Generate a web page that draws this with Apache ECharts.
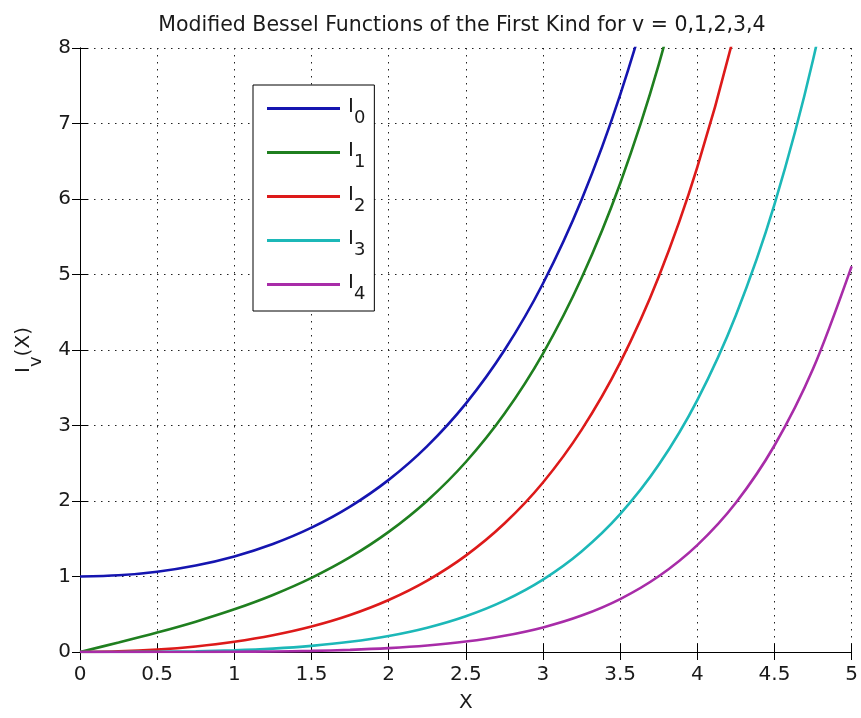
<!DOCTYPE html>
<html>
<head>
<meta charset="utf-8">
<script src="https://cdn.jsdelivr.net/npm/echarts@6/dist/echarts.min.js"></script>
<style>
  html, body { margin: 0; padding: 0; background: #fff; }
  #chart { width: 861px; height: 718px; }
</style>
</head>
<body>
<div id="chart"></div>
<script>
// Sample positions along X (step 0.25)
const xValues = [0, 0.25, 0.5, 0.75, 1, 1.25, 1.5, 1.75, 2, 2.25, 2.5, 2.75, 3, 3.25, 3.5, 3.75, 4, 4.25, 4.5, 4.75, 5];

// I_v(X) for v = 0..4
const i0Values = [1, 1.0157, 1.0635, 1.1456, 1.2661, 1.4305, 1.6467, 1.9253, 2.2796, 2.7271, 3.2898, 3.9959, 4.8808, 5.9893, 7.3782, 9.1189, 11.3019];
const i1Values = [0, 0.1260, 0.2579, 0.4020, 0.5652, 0.7553, 0.9817, 1.2555, 1.5906, 2.0040, 2.5167, 3.1554, 3.9534, 4.9525, 6.2058, 7.7800, 9.7595];
const i2Values = [0, 0.0079, 0.0319, 0.0737, 0.1357, 0.2220, 0.3378, 0.4904, 0.6889, 0.9458, 1.2764, 1.7011, 2.2452, 2.9417, 3.8320, 4.9696, 6.4222, 8.2762, 10.6416];
const i3Values = [0, 0.0003, 0.0026, 0.0091, 0.0222, 0.0448, 0.0808, 0.1347, 0.2127, 0.3226, 0.4743, 0.6811, 0.9598, 1.3320, 1.8263, 2.4791, 3.3373, 4.4616, 5.9300, 7.8435, 10.3311];
const i4Values = [0, 0.0000, 0.0002, 0.0008, 0.0027, 0.0069, 0.0147, 0.0284, 0.0507, 0.0855, 0.1380, 0.2150, 0.3257, 0.4826, 0.7012, 1.0031, 1.4163, 1.9775, 2.7349, 3.7509, 5.1082];

const seriesNames = ['I0', 'I1', 'I2', 'I3', 'I4'];
const seriesOrders = ['0', '1', '2', '3', '4'];
const seriesColors = ['#1515b0', '#1f7f1f', '#dd1a1a', '#1cb8b8', '#a82ca8'];
const seriesValues = [i0Values, i1Values, i2Values, i3Values, i4Values];

const FONT = '"DejaVu Sans", "Liberation Sans", sans-serif';
const TEXT = '#1a1a1a';

// Main glyph raised, index lowered: asymmetric padding gives the subscript offset
const axisNameRich = {
  m: { fontFamily: FONT, fontSize: 20, color: TEXT, lineHeight: 20, padding: [0, 0, 12, 0] },
  s: { fontFamily: FONT, fontSize: 18, color: TEXT, lineHeight: 18, padding: [13, 0, 0, 0] }
};
// Legend labels: "I" centred on the sample line, index below it
const legendRich = {
  m: { fontFamily: FONT, fontSize: 20, color: TEXT, lineHeight: 20, padding: [7, 0, 10, 0] },
  s: { fontFamily: FONT, fontSize: 18, color: TEXT, lineHeight: 18, padding: [19, 0, 0, 0] }
};

function pairs(values) {
  return values.map((v, i) => [xValues[i], v]);
}

const chart = echarts.init(document.getElementById('chart'), null, { renderer: 'canvas' });

const dotted = { color: '#222', width: 1, type: [1.5, 5.5] };

chart.setOption({
  animation: false,
  backgroundColor: '#fff',
  title: {
    text: 'Modified Bessel Functions of the First Kind for v = 0,1,2,3,4',
    left: 457,
    top: 10,
    textAlign: 'center',
    textStyle: { fontFamily: FONT, fontSize: 20.5, fontWeight: 'normal', color: TEXT }
  },
  grid: { left: 80, right: 6, top: 48, bottom: 61, containLabel: false },
  legend: {
    orient: 'vertical',
    left: 253,
    top: 85,
    padding: [5, 9, 8, 14],
    itemGap: 7,
    itemWidth: 73,
    itemHeight: 3,
    icon: 'rect',
    borderColor: '#000',
    borderWidth: 1,
    backgroundColor: '#fff',
    data: seriesNames,
    formatter: name => '{m|I}{s|' + seriesOrders[seriesNames.indexOf(name)] + '}',
    textStyle: { padding: [0, 0, 0, 3], rich: legendRich }
  },
  xAxis: [
    {
      type: 'value', min: 0, max: 5, interval: 0.5,
      name: 'X', nameLocation: 'middle', nameGap: 41,
      nameTextStyle: { fontFamily: FONT, fontSize: 20, color: TEXT },
      axisLine: { show: true, lineStyle: { color: '#000', width: 1 } },
      axisTick: { show: true, inside: true, length: 8, lineStyle: { color: '#000' } },
      axisLabel: { margin: 13, fontFamily: FONT, fontSize: 20, color: TEXT, showMinLabel: true, showMaxLabel: true },
      splitLine: { show: true, lineStyle: dotted }
    },
    {
      type: 'value', min: 0, max: 5, interval: 0.5, position: 'top',
      axisLine: { show: true, lineStyle: { color: '#000', width: 1 } },
      axisTick: { show: true, inside: true, length: 8, lineStyle: { color: '#000' } },
      axisLabel: { show: false },
      splitLine: { show: false }
    }
  ],
  yAxis: [
    {
      type: 'value', min: 0, max: 8, interval: 1,
      name: '{m|I}{s|v}{m|(X)}', nameLocation: 'middle', nameGap: 40, nameRotate: 90,
      nameTextStyle: { rich: axisNameRich },
      axisLine: { show: true, lineStyle: { color: '#000', width: 1 } },
      axisTick: { show: true, inside: true, length: 8, lineStyle: { color: '#000' } },
      axisLabel: { margin: 9, fontFamily: FONT, fontSize: 20, color: TEXT },
      splitLine: { show: true, lineStyle: dotted }
    },
    {
      type: 'value', min: 0, max: 8, interval: 1, position: 'right',
      axisLine: { show: true, lineStyle: { color: '#000', width: 1 } },
      axisTick: { show: true, inside: true, length: 8, lineStyle: { color: '#000' } },
      axisLabel: { show: false },
      splitLine: { show: false }
    }
  ],
  series: seriesNames.map((name, k) => ({
    name,
    type: 'line',
    xAxisIndex: 0,
    yAxisIndex: 0,
    data: pairs(seriesValues[k]),
    smooth: 0.3,
    showSymbol: false,
    clip: true,
    color: seriesColors[k],
    lineStyle: { color: seriesColors[k], width: 2.6 },
    emphasis: { disabled: true }
  }))
});
</script>
</body>
</html>
